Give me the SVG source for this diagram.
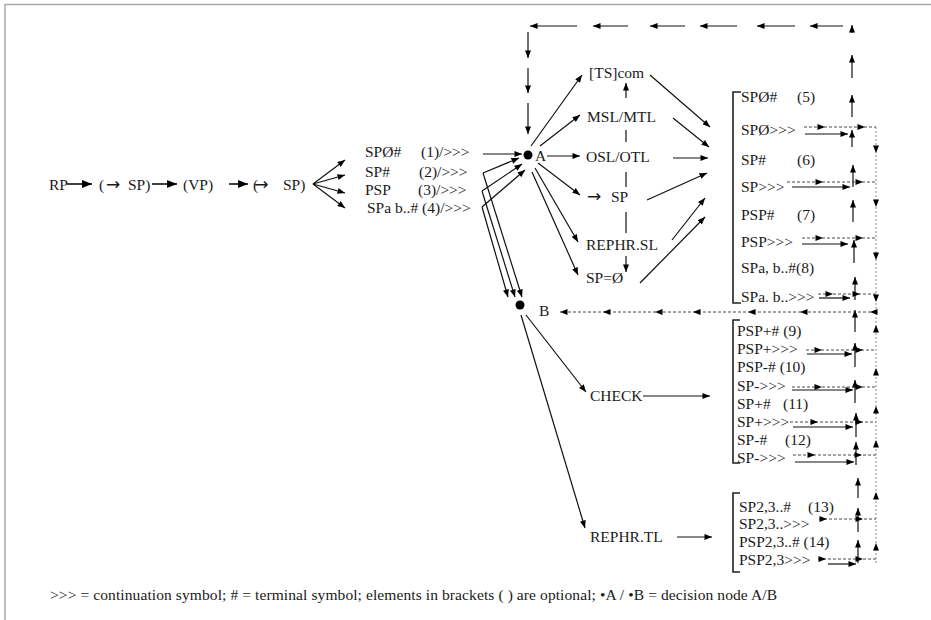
<svg xmlns="http://www.w3.org/2000/svg" width="931" height="620" viewBox="0 0 931 620">
<defs>
<marker id="ah" viewBox="0 0 10 8" refX="10" refY="4" markerWidth="8" markerHeight="6" orient="auto" markerUnits="userSpaceOnUse"><path d="M0,0 L10,4 L0,8 z" fill="#000"/></marker>
<marker id="ahb" viewBox="0 0 10 8" refX="10" refY="4" markerWidth="10" markerHeight="8" orient="auto" markerUnits="userSpaceOnUse"><path d="M0,0 L10,4 L0,8 z" fill="#000"/></marker>
<style>
text{font-family:"Liberation Serif","Times New Roman",serif;font-size:15.5px;fill:#1a1a1a}
.ar{font-family:"DejaVu Sans",sans-serif;font-size:17px}
.s{fill:none;stroke:#111;stroke-width:1.2}
.a{marker-end:url(#ah)}
.d{fill:none;stroke:#333;stroke-width:0.9;stroke-dasharray:3 2;marker-mid:url(#ah)}
.v{fill:none;stroke:#888;stroke-width:1;stroke-dasharray:2 2;marker-mid:url(#ah)}
.br{fill:none;stroke:#222;stroke-width:1.6}
.frame{fill:none;stroke:#aaa;stroke-width:1.5}
</style>
</defs>
<rect width="931" height="620" fill="#fff"/>
<path class="frame" d="M5,620 L5,4.5 L931,4.5"/>

<g id="node-RP"><text x="49" y="190">RP</text></g>
<g id="node-SP-opt1"><text y="190"><tspan x="99">(</tspan><tspan x="106" class="ar">→</tspan><tspan x="128">SP)</tspan></text></g>
<g id="node-VP"><text x="183" y="190">(VP)</text></g>
<g id="node-SP-opt2"><text y="190"><tspan x="253" letter-spacing="-4">(</tspan><tspan class="ar">→</tspan><tspan x="283">SP)</tspan></text></g>

<g id="node-opt1"><text y="157"><tspan x="365">SPØ#</tspan><tspan x="421">(1)/&gt;&gt;&gt;</tspan></text></g>
<g id="node-opt2"><text y="177"><tspan x="365">SP#</tspan><tspan x="419">(2)/&gt;&gt;&gt;</tspan></text></g>
<g id="node-opt3"><text y="195"><tspan x="365">PSP</tspan><tspan x="418">(3)/&gt;&gt;&gt;</tspan></text></g>
<g id="node-opt4"><text x="367" y="213">SPa b..# (4)/&gt;&gt;&gt;</text></g>

<g id="node-A"><circle cx="528" cy="155" r="4.5" fill="#000"/><text x="535" y="161">A</text></g>
<g id="node-B"><circle cx="520" cy="305" r="4.5" fill="#000"/><text x="539" y="316">B</text></g>

<g id="node-TScom"><text x="589" y="78">[TS]com</text></g>
<g id="node-MSL"><text x="587" y="122">MSL/MTL</text></g>
<g id="node-OSL"><text x="586" y="162">OSL/OTL</text></g>
<g id="node-SP"><text y="202"><tspan x="587" class="ar">→</tspan><tspan x="611">SP</tspan></text></g>
<g id="node-REPHR-SL"><text x="586" y="250">REPHR.SL</text></g>
<g id="node-SP-null"><text x="586" y="283">SP=Ø</text></g>
<g id="node-CHECK"><text x="590" y="401">CHECK</text></g>
<g id="node-REPHR-TL"><text x="590" y="542">REPHR.TL</text></g>

<g id="node-list1">
<path class="br" d="M741,92 L733,92 L733,303 L741,303"/>
<text y="102"><tspan x="741">SPØ#</tspan><tspan x="797">(5)</tspan></text>
<text x="741" y="135">SPØ&gt;&gt;&gt;</text>
<text y="165"><tspan x="741">SP#</tspan><tspan x="797">(6)</tspan></text>
<text x="741" y="192">SP&gt;&gt;&gt;</text>
<text y="220"><tspan x="741">PSP#</tspan><tspan x="797">(7)</tspan></text>
<text x="741" y="247">PSP&gt;&gt;&gt;</text>
<text x="741" y="273">SPa, b..#(8)</text>
<text x="741" y="302">SPa. b..&gt;&gt;&gt;</text>
</g>
<g id="node-list2">
<path class="br" d="M740,320 L733,320 L733,463 L740,463"/>
<text x="737" y="336">PSP+# (9)</text>
<text x="737" y="354">PSP+&gt;&gt;&gt;</text>
<text x="737" y="372">PSP-# (10)</text>
<text x="737" y="391">SP-&gt;&gt;&gt;</text>
<text y="409"><tspan x="737">SP+#</tspan><tspan x="783">(11)</tspan></text>
<text x="737" y="427">SP+&gt;&gt;&gt;</text>
<text y="445"><tspan x="737">SP-#</tspan><tspan x="785">(12)</tspan></text>
<text x="737" y="463">SP-&gt;&gt;&gt;</text>
</g>
<g id="node-list3">
<path class="br" d="M740,493 L733,493 L733,572 L740,572"/>
<text y="512"><tspan x="739">SP2,3..#</tspan><tspan x="808">(13)</tspan></text>
<text x="739" y="529">SP2,3..&gt;&gt;&gt;</text>
<text x="739" y="547">PSP2,3..# (14)</text>
<text x="739" y="565">PSP2,3&gt;&gt;&gt;</text>
</g>

<g id="legend"><text x="50" y="600" textLength="727" lengthAdjust="spacing">&gt;&gt;&gt; = continuation symbol; # = terminal symbol; elements in brackets ( ) are optional; •A / •B = decision node A/B</text></g>

<g id="connectors">
<path class="s" style="stroke-width:1.6;marker-end:url(#ahb)" d="M67,184 L92,184"/>
<path class="s" style="stroke-width:1.6;marker-end:url(#ahb)" d="M152,184 L177,184"/>
<path class="s" style="stroke-width:1.6;marker-end:url(#ahb)" d="M229,184 L248,184"/>
<path class="s a" d="M313,184 L345,160"/>
<path class="s a" d="M313,184 L345,175"/>
<path class="s a" d="M313,184 L345,193"/>
<path class="s a" d="M313,184 L345,208"/>
<path class="s a" d="M483,154 L522,154"/>
<path class="s a" d="M483,173 L519,158"/>
<path class="s a" d="M483,173 L522,297"/>
<path class="s a" d="M482,191 L522,164"/>
<path class="s a" d="M482,191 L515,297"/>
<path class="s a" d="M482,207 L525,170"/>
<path class="s a" d="M482,207 L508,297"/>
<path class="s a" d="M531,146 L582,75"/>
<path class="s a" d="M540,146 L580,115"/>
<path class="s a" d="M547,156 L580,156"/>
<path class="s a" d="M538,163 L580,195"/>
<path class="s a" d="M535,168 L578,242"/>
<path class="s a" d="M532,172 L578,275"/>
<path class="s a" d="M626,98 L626,83"/>
<path class="s" d="M626,130 L626,142"/>
<path class="s" d="M626,172 L626,187"/>
<path class="s" d="M626,212 L626,233"/>
<path class="s a" d="M626,256 L626,272"/>
<path class="s a" d="M650,75 L710,127"/>
<path class="s a" d="M673,118 L709,147"/>
<path class="s a" d="M673,158 L708,158"/>
<path class="s a" d="M647,200 L707,173"/>
<path class="s a" d="M672,240 L705,198"/>
<path class="s a" d="M640,283 L705,217"/>
<path class="s a" d="M526,315 L586,392"/>
<path class="s a" d="M521,315 L585,528"/>
<path class="s a" d="M643,396 L710,396"/>
<path class="s a" d="M677,537 L712,537"/>
<path class="s a" d="M852,33 L852,25"/>
<path class="s a" d="M852,78 L852,55"/>
<path class="s a" d="M852,117 L852,95"/>
<path class="s a" d="M852,147 L852,130"/>
<path class="s a" d="M853,187 L853,165"/>
<path class="s a" d="M853,222 L853,200"/>
<path class="s a" d="M854,263 L854,240"/>
<path class="s a" d="M855,300 L855,277"/>
<path class="s a" d="M855,332 L855,310"/>
<path class="s a" d="M855,367 L855,343"/>
<path class="s a" d="M855,403 L855,380"/>
<path class="s a" d="M856,437 L856,413"/>
<path class="s a" d="M856,465 L856,442"/>
<path class="s a" d="M858,498 L858,478"/>
<path class="s a" d="M858,532 L858,508"/>
<path class="s a" d="M858,563 L858,540"/>
<path class="s a" d="M843,26 L810,26"/>
<path class="s a" d="M795,26 L757,26"/>
<path class="s a" d="M737,26 L700,26"/>
<path class="s a" d="M685,26 L650,26"/>
<path class="s a" d="M628,26 L593,26"/>
<path class="s a" d="M577,26 L530,26"/>
<path class="s a" d="M528,32 L528,58"/>
<path class="s a" d="M528,68 L528,93"/>
<path class="s a" d="M528,103 L528,134"/>
<path class="d" d="M804,127 L825,127 L865,127 L876,127"/>
<path class="d" d="M787,182 L823,182 L863,182 L876,182"/>
<path class="d" d="M802,238 L823,238 L863,238 L876,238"/>
<path class="d" d="M818,294 L833,294 L860,294 L876,294"/>
<path class="d" d="M806,350 L822,350 L863,350 L876,350"/>
<path class="d" d="M792,387 L822,387 L863,387 L876,387"/>
<path class="d" d="M790,422 L818,422 L863,422 L876,422"/>
<path class="d" d="M793,455 L815,455 L862,455 L876,455"/>
<path class="d" d="M819,519 L827,519 L863,519 L876,519"/>
<path class="d" d="M818,559 L826,559 L863,559 L876,559"/>
<path class="s a" d="M805,134 L848,134"/>
<path class="s a" d="M792,187 L850,187"/>
<path class="s a" d="M802,244 L848,244"/>
<path class="s a" d="M819,298 L850,298"/>
<path class="s a" d="M807,354 L852,354"/>
<path class="s a" d="M792,390 L853,390"/>
<path class="s a" d="M793,427 L853,427"/>
<path class="s a" d="M795,462 L854,462"/>
<path class="s a" d="M828,564 L856,564"/>
<path class="v" d="M876,127 L876,153 L876,207 L876,260 L876,302 L876,312"/>
<path class="v" d="M876,563 L876,543 L876,492 L876,440 L876,406 L876,368 L876,325 L876,312"/>
<path class="d" style="marker-end:url(#ah)" d="M876,312 L870,312 L800,312 L748,312 L693,312 L655,312 L603,312 L560,312"/>
</g>
</svg>
